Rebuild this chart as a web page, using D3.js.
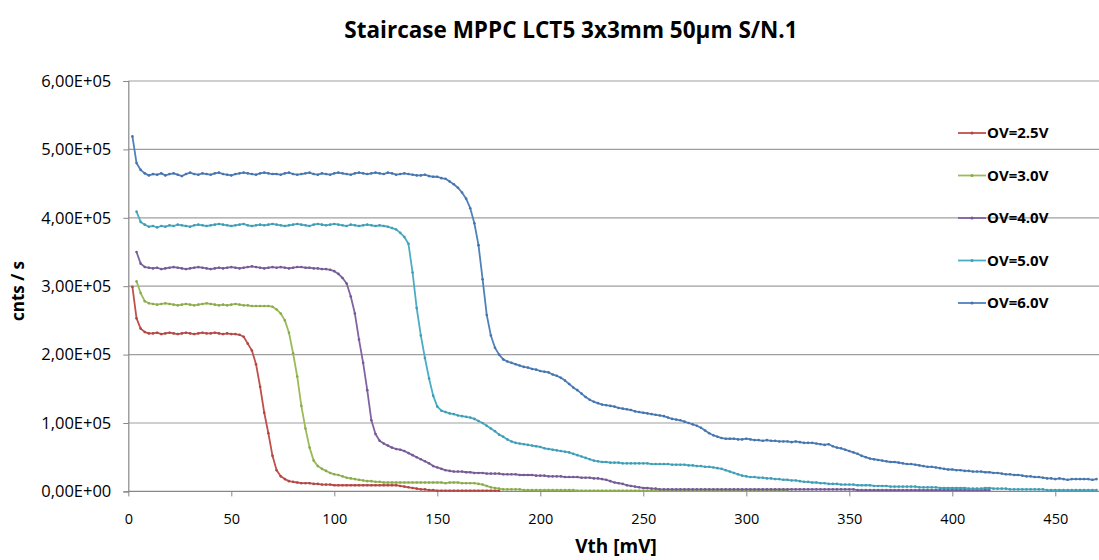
<!DOCTYPE html>
<html>
<head>
<meta charset="utf-8">
<script src="https://cdn.jsdelivr.net/npm/d3@7"></script>
<style>
body { margin: 0; background: #fff; }
text { font-family: "Open Sans", sans-serif; fill: #000; }
</style>
</head>
<body>
<svg width="1099" height="560"></svg>
<script>
// threshold scan: first point (mV) and step of 2 mV, counts in thousands
const seriesNames = ["OV=2.5V", "OV=3.0V", "OV=4.0V", "OV=5.0V", "OV=6.0V"]
const startMv = [2, 4, 4, 4, 2]
const stepMv = 2

const ov25 = [
  299, 253, 238, 233, 231, 231, 232, 230, 231, 232,
  231, 230, 231, 232, 231, 230, 231, 232, 231, 231,
  232, 231, 230, 231, 230, 230, 229, 226, 216, 206,
  186, 153, 115, 85, 52, 31, 22, 18, 15, 14,
  13, 12, 12, 12, 11, 11, 10, 10, 10, 9,
  9, 9, 9, 9, 9, 9, 9, 9, 9, 9,
  9, 9, 9, 9, 9, 8, 7, 6, 5, 4,
  3, 3, 2, 2, 1, 1, 1, 1, 1, 1,
  1, 1, 1, 1, 1, 1, 1, 1, 1, 1
]
const ov30 = [
  307, 290, 278, 275, 274, 273, 274, 275, 274, 273,
  272, 273, 274, 273, 272, 273, 274, 275, 274, 273,
  272, 273, 272, 273, 274, 273, 272, 272, 271, 271,
  271, 271, 271, 270, 266, 260, 250, 232, 202, 168,
  125, 92, 64, 45, 37, 33, 30, 27, 25, 24,
  22, 20, 19, 18, 17, 16, 15, 15, 14, 14,
  13, 13, 13, 13, 13, 13, 13, 13, 13, 13,
  13, 13, 13, 13, 13, 12, 13, 13, 13, 12,
  12, 12, 12, 11, 10, 8, 6, 5, 4, 3,
  3, 3, 3, 3, 2, 2, 2, 2, 2, 2,
  2, 2, 2, 2, 2, 2, 2, 1, 1, 1,
  1, 1, 1, 1, 1, 1, 1, 1, 1, 1,
  1, 1, 1, 1, 1, 1, 1, 1, 1, 1,
  1, 1, 1, 1, 1, 1, 1, 1, 1, 1,
  1, 1, 1, 1, 1, 1, 1, 1, 1, 1,
  1, 1, 1, 1, 1, 1, 1, 1, 1
]
const ov40 = [
  350, 333, 328, 327, 326, 327, 325, 326, 327, 328,
  327, 326, 325, 326, 327, 328, 327, 326, 325, 326,
  327, 326, 327, 328, 327, 326, 327, 328, 329, 328,
  327, 326, 327, 328, 327, 328, 327, 326, 327, 328,
  328, 327, 327, 326, 326, 325, 325, 324, 322, 318,
  312, 304, 285, 260, 222, 188, 148, 104, 84, 74,
  70, 67, 64, 62, 61, 59, 56, 53, 50, 47,
  44, 41, 37, 35, 33, 31, 30, 29, 29, 29,
  28, 28, 27, 27, 27, 26, 26, 26, 26, 25,
  25, 25, 25, 24, 24, 24, 24, 23, 23, 23,
  22, 22, 22, 22, 21, 21, 21, 21, 20, 20,
  20, 19, 19, 18, 17, 15, 13, 12, 11, 9,
  8, 7, 6, 5, 5, 4, 4, 3, 3, 3,
  3, 3, 3, 3, 3, 3, 3, 3, 3, 3,
  3, 3, 3, 3, 3, 3, 3, 3, 3, 3,
  3, 3, 3, 3, 3, 3, 3, 3, 3, 3,
  3, 3, 3, 3, 3, 3, 3, 3, 3, 3,
  3, 3, 3, 3, 3, 2, 2, 2, 2, 2,
  2, 2, 2, 2, 2, 2, 2, 2, 2, 2,
  2, 2, 2, 2, 2, 2, 2, 2, 2, 2,
  2, 2, 2, 2, 2, 2, 2, 2
]
const ov50 = [
  409, 394, 390, 387, 388, 386, 388, 387, 389, 388,
  390, 389, 388, 387, 389, 390, 389, 388, 389, 390,
  391, 390, 389, 388, 389, 390, 391, 389, 388, 389,
  390, 389, 390, 391, 390, 389, 388, 389, 390, 391,
  390, 389, 388, 390, 391, 390, 389, 390, 391, 390,
  389, 388, 390, 389, 388, 389, 390, 389, 388, 389,
  388, 387, 385, 383, 378, 372, 362, 320, 268, 228,
  195, 165, 140, 124, 118, 116, 114, 113, 111, 110,
  109, 108, 106, 103, 100, 96, 92, 88, 83, 80,
  76, 73, 71, 70, 69, 68, 67, 66, 65, 63,
  62, 61, 60, 59, 58, 57, 55, 53, 51, 49,
  47, 45, 44, 43, 43, 42, 42, 42, 41, 41,
  41, 41, 41, 41, 41, 40, 40, 40, 40, 40,
  39, 39, 39, 39, 38, 38, 37, 37, 36, 36,
  35, 34, 33, 31, 29, 27, 25, 23, 22, 21,
  21, 20, 20, 19, 19, 18, 18, 17, 17, 16,
  16, 15, 14, 14, 13, 13, 12, 12, 11, 11,
  11, 10, 10, 10, 10, 9, 9, 9, 9, 8,
  8, 8, 8, 7, 7, 7, 7, 7, 7, 7,
  6, 6, 6, 6, 6, 5, 5, 5, 5, 5,
  5, 5, 4, 4, 4, 4, 5, 5, 4, 4,
  4, 4, 3, 3, 3, 3, 3, 3, 3, 3,
  3, 2, 2, 2, 2, 2, 2, 2, 2, 2,
  2, 2, 2, 2
]
const ov60 = [
  519, 480, 470, 465, 462, 464, 463, 465, 462, 464,
  465, 463, 461, 464, 466, 464, 463, 465, 464, 463,
  465, 466, 464, 463, 462, 464, 465, 466, 465, 464,
  463, 465, 466, 465, 464, 464, 463, 465, 466, 464,
  463, 464, 465, 466, 464, 463, 465, 464, 463, 465,
  466, 465, 464, 463, 465, 466, 465, 464, 465, 466,
  465, 464, 466, 465, 463, 464, 465, 464, 463, 462,
  462, 463, 461, 460, 460, 458, 457, 453, 449, 444,
  437, 428, 414, 392, 360, 310, 258, 228, 210, 200,
  193, 190, 188, 186, 184, 182, 181, 179, 178, 176,
  175, 174, 171, 169, 166, 162, 157, 152, 148, 143,
  138, 134, 131, 129, 127, 126, 125, 124, 122, 121,
  120, 119, 117, 116, 115, 114, 113, 112, 111, 110,
  108, 106, 105, 104, 102, 100, 98, 96, 93, 89,
  85, 82, 80, 78, 77, 77, 77, 76, 76, 77,
  76, 75, 75, 74, 75, 74, 74, 73, 73, 73,
  72, 73, 72, 71, 71, 71, 70, 69, 68, 69,
  66, 64, 63, 61, 59, 57, 55, 52, 50, 48,
  47, 46, 45, 44, 43, 43, 42, 41, 40, 40,
  39, 38, 37, 36, 36, 35, 34, 33, 32, 32,
  31, 31, 30, 30, 29, 29, 29, 28, 28, 27,
  27, 26, 25, 25, 24, 24, 23, 22, 22, 21,
  21, 20, 19, 19, 18, 19, 18, 17, 18, 18,
  18, 18, 18, 17, 18
]
const seriesValues = [ov25, ov30, ov40, ov50, ov60]
const colors = ["#c0504d", "#9bbb59", "#8064a2", "#4bacc6", "#4f81bd"]

const yTicks = [0, 100000, 200000, 300000, 400000, 500000, 600000]
const yTickLabels = ["0,00E+00", "1,00E+05", "2,00E+05", "3,00E+05", "4,00E+05", "5,00E+05", "6,00E+05"]
const xTicks = [0, 50, 100, 150, 200, 250, 300, 350, 400, 450]

const svg = d3.select("svg")
const width = 1099

const x = d3.scaleLinear().domain([0, 450]).range([128.3, 1055.3])
const y = d3.scaleLinear().domain([0, 600000]).range([491.4, 81])

// title
svg.append("text")
  .attr("x", 571).attr("y", 38)
  .attr("text-anchor", "middle")
  .style("font-weight", "bold").style("font-size", "22.5px")
  .text("Staircase MPPC LCT5 3x3mm 50µm S/N.1")

// gridlines
svg.append("g")
  .selectAll("line")
  .data(yTicks.slice(1))
  .enter()
  .append("line")
  .attr("x1", x(0)).attr("x2", width)
  .attr("y1", d => y(d)).attr("y2", d => y(d))
  .attr("stroke", "#9f9f9f").attr("stroke-width", 1.2)

// axes
const yAxis = svg.append("g")
  .attr("transform", `translate(${x(0)},0)`)
  .call(d3.axisLeft(y).tickValues(yTicks).tickSize(5).tickPadding(12)
    .tickFormat((d, i) => yTickLabels[i]))
const xAxis = svg.append("g")
  .attr("transform", `translate(0,${y(0)})`)
  .call(d3.axisBottom(x).tickValues(xTicks).tickSize(5).tickPadding(17).tickFormat(d3.format("d")))
xAxis.select(".domain").attr("d", `M${x(0)},0H${width}`)
for (const ax of [xAxis, yAxis]) {
  ax.select(".domain").attr("stroke", "#888").attr("stroke-width", 1.2)
  ax.selectAll(".tick line").attr("stroke", "#888")
  ax.selectAll("text").style("font-family", "'Open Sans', sans-serif").attr("fill", "#111")
}
yAxis.selectAll("text").style("font-size", "16.5px")
xAxis.selectAll("text").style("font-size", "14.5px")

// axis titles
svg.append("text")
  .attr("transform", "translate(24,291) rotate(-90)")
  .attr("text-anchor", "middle")
  .style("font-weight", "bold").style("font-size", "17px")
  .text("cnts / s")
svg.append("text")
  .attr("x", 616).attr("y", 553)
  .attr("text-anchor", "middle")
  .style("font-weight", "bold").style("font-size", "19px")
  .text("Vth [mV]")

// series
const line = d3.line().x(d => x(d.mv)).y(d => y(d.cnt))
seriesValues.forEach((vals, s) => {
  const pts = vals.map((v, i) => ({ mv: startMv[s] + stepMv * i, cnt: v * 1000 }))
  const g = svg.append("g")
  g.append("path")
    .datum(pts)
    .attr("d", line)
    .attr("fill", "none")
    .attr("stroke", colors[s])
    .attr("stroke-width", 1.8)
    .attr("stroke-linejoin", "round")
  g.selectAll("circle")
    .data(pts)
    .enter()
    .append("circle")
    .attr("cx", d => x(d.mv)).attr("cy", d => y(d.cnt))
    .attr("r", 1.3)
    .attr("fill", d3.color(colors[s]).darker(0.3))
})

// legend
const legend = svg.append("g")
  .selectAll("g")
  .data(seriesNames)
  .enter()
  .append("g")
  .attr("transform", (d, i) => `translate(958,${133 + i * 42.5})`)
legend.append("line")
  .attr("x1", 0).attr("x2", 28)
  .attr("stroke", (d, i) => colors[i]).attr("stroke-width", 1.8)
legend.append("circle")
  .attr("cx", 14).attr("r", 1.5)
  .attr("fill", (d, i) => d3.color(colors[i]).darker(0.3))
legend.append("text")
  .attr("x", 29).attr("dy", "0.36em")
  .style("font-weight", "bold").style("font-size", "15px")
  .text(d => d)
</script>
</body>
</html>
